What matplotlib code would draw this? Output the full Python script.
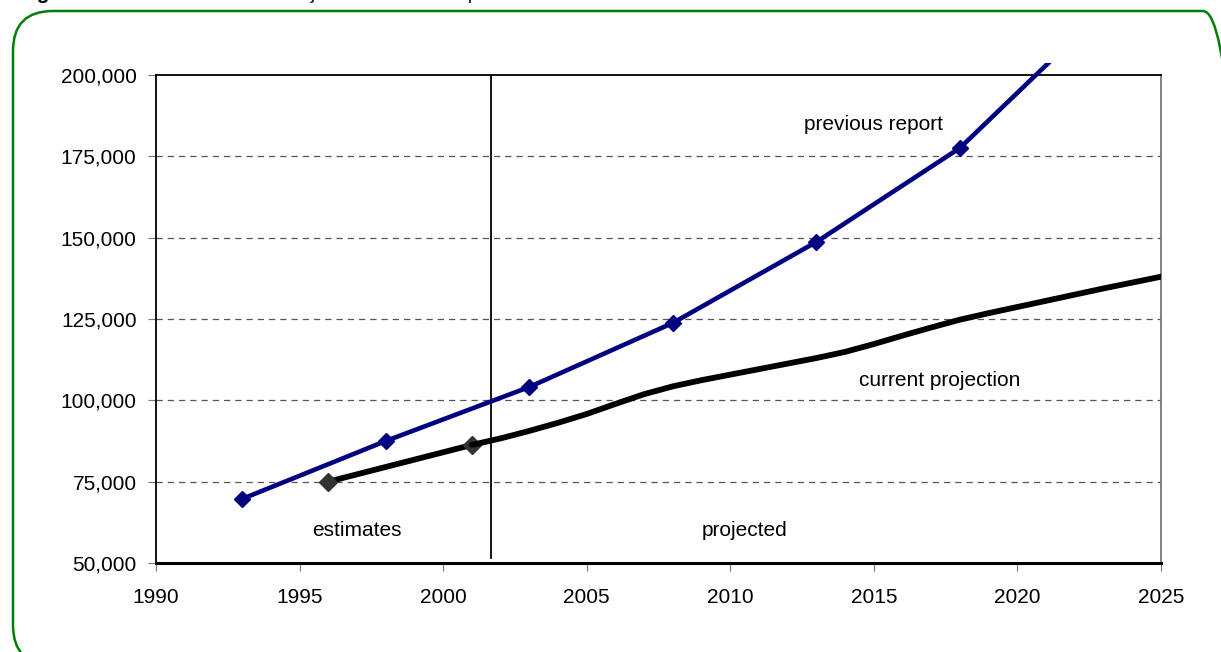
import matplotlib.pyplot as plt
from matplotlib.patches import FancyBboxPatch
from matplotlib.transforms import Bbox, TransformedBbox
from matplotlib.ticker import FuncFormatter

plt.rcParams['font.family'] = ['Liberation Sans', 'DejaVu Sans']

# --- data ---
prev_years = [1993, 1998, 2003, 2008, 2013, 2018, 2023]
prev_pop = [69700, 87500, 104100, 123800, 148700, 177600, 220000]

est_years = [1996, 2001]
est_pop = [75000, 86300]

proj_years = list(range(2001, 2026))
proj_pop = [86300, 88300, 90600, 93100, 95800, 98900, 101900, 104300,
            106200, 107900, 109600, 111300, 113000, 114900, 117300,
            119900, 122400, 124800, 126800, 128700, 130600, 132500,
            134400, 136200, 138000]

split_year = 2001.65

xticks = [1990, 1995, 2000, 2005, 2010, 2015, 2020, 2025]
yticks = [50000, 75000, 100000, 125000, 150000, 175000, 200000]

# --- figure ---
fig = plt.figure(figsize=(12.21, 6.52), dpi=100)
ax = fig.add_axes([0.1278, 0.1365, 0.8231, 0.7485])

# green rounded frame
frame = FancyBboxPatch((0.13, -0.13), 12.30, 6.54,
                       boxstyle="round,pad=0,rounding_size=0.40",
                       transform=fig.dpi_scale_trans, fill=False,
                       edgecolor="#008000", linewidth=1.8, zorder=0)
fig.patches.append(frame)

# title line above the frame (runs off the top edge)
fig.text(0.015, 1 + 1 / 652, "Figure 1", fontsize=15, fontweight="bold",
         va="baseline", ha="left")
fig.text(0.085, 1 + 1 / 652,
         "      Estimated and Projected Inmate Population 1990 to 2025",
         fontsize=15, va="baseline", ha="left", color="#222222")

for y in yticks[1:-1]:
    ax.axhline(y, color="#555555", linestyle=(0, (5, 4)), linewidth=0.9,
               zorder=1)

ax.plot([split_year, split_year], [51500, 200000], color="black",
        linewidth=1.3, zorder=2)

ax.plot(est_years, est_pop, color="black", linewidth=4.2,
        marker="D", markersize=9, markerfacecolor="#333333",
        markeredgecolor="#333333", zorder=3)
ax.plot(proj_years, proj_pop, color="black", linewidth=4.2,
        solid_capstyle="round", zorder=3)

prev_line, = ax.plot(prev_years[:-1], prev_pop[:-1], color="#000080",
                     linewidth=3.3, marker="D", markersize=8.5, zorder=4)
tail, = ax.plot(prev_years[-2:], prev_pop[-2:], color="#000080",
                linewidth=3.3, zorder=4)
# let the top of the line run a little past the plot area
clip = TransformedBbox(Bbox([[0, 0], [1, 1.0246]]), ax.transAxes)
tail.set_clip_box(clip)
prev_line.set_clip_box(clip)

ax.text(2015.0, 184900, "previous report", fontsize=15, ha="center",
        va="center")
ax.text(2017.3, 106200, "current projection", fontsize=15, ha="center",
        va="center")
ax.text(1997.0, 60100, "estimates", fontsize=15, ha="center", va="center")
ax.text(2010.5, 60100, "projected", fontsize=15, ha="center", va="center")

ax.set_xlim(1990, 2025)
ax.set_ylim(50000, 200000)
ax.set_xticks(xticks)
ax.set_yticks(yticks)
ax.yaxis.set_major_formatter(FuncFormatter(lambda v, p: f"{int(v):,}"))
ax.tick_params(axis="both", labelsize=15, length=6, color="#777777",
               direction="out")
ax.tick_params(axis="y", pad=8)
ax.tick_params(axis="x", pad=12)

ax.spines["left"].set_color("black")
ax.spines["left"].set_linewidth(1.3)
ax.spines["top"].set_color("black")
ax.spines["top"].set_linewidth(1.3)
ax.spines["bottom"].set_color("black")
ax.spines["bottom"].set_linewidth(2.2)
ax.spines["right"].set_color("#777777")
ax.spines["right"].set_linewidth(1.3)

plt.savefig("out.png", dpi=100)
